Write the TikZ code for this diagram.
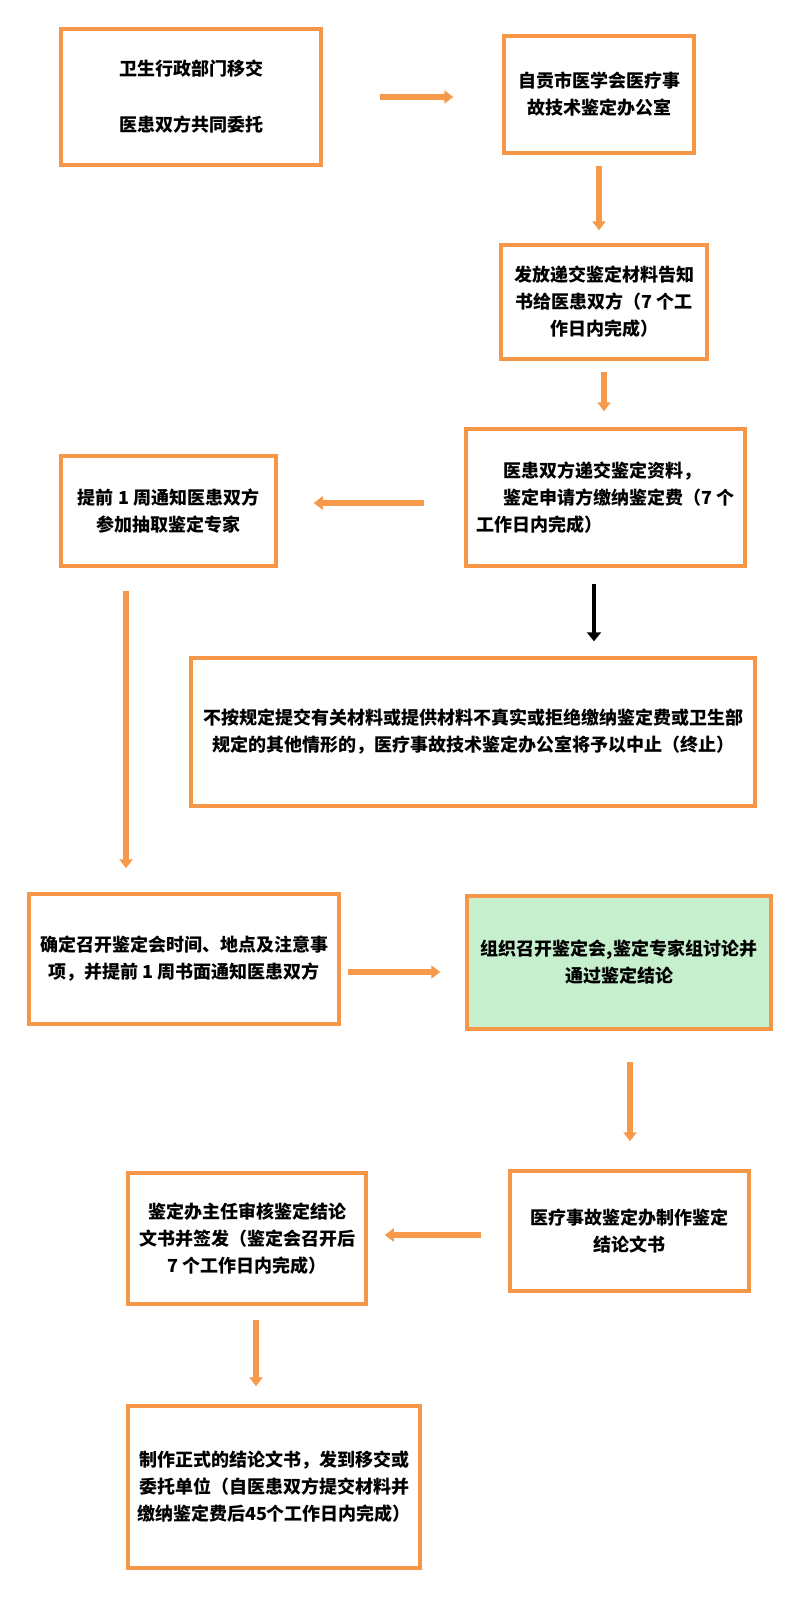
\documentclass[tikz,border=0pt]{standalone}
\usepackage{fontspec}
\usepackage{tikz}
\usetikzlibrary{arrows.meta}
\newfontfamily\cjk{Noto Sans CJK SC}
\definecolor{boxorange}{RGB}{247,150,70}
\definecolor{arroworange}{RGB}{246,153,75}
\definecolor{palegreen}{RGB}{198,239,206}

\begin{document}
\begin{tikzpicture}[x=1pt,y=-1pt,
  box/.style={draw=boxorange,line width=3.5pt,rectangle,inner sep=0pt,align=center,
    font=\cjk\bfseries\fontsize{18}{27}\selectfont},
  flow/.style={draw=arroworange,line width=5.5pt,-{Triangle[width=13pt,length=9pt]}},
  halt/.style={draw=black,line width=3.5pt,-{Triangle[width=14pt,length=9pt]}}]
 \fill[white] (0,0) rectangle (800,1600);
 \useasboundingbox (0,0) rectangle (800,1600);

 \node (transfer) at (191,97) [box,minimum width=260pt,minimum height=136pt] {卫生行政部门移交\\[29pt]医患双方共同委托};
 \node (office) at (599,94.5) [box,minimum width=190pt,minimum height=117pt] {自贡市医学会医疗事\\故技术鉴定办公室};
 \node (notice) at (604,302) [box,minimum width=206pt,minimum height=114pt] {发放递交鉴定材料告知\\书给医患双方（7 个工\\作日内完成）};
 \node (submit) at (605.5,497.5) [box,align=left,minimum width=279pt,minimum height=137pt] {\hspace*{1.5em}医患双方递交鉴定资料，\\\hspace*{1.5em}鉴定申请方缴纳鉴定费（7 个\\工作日内完成）};
 \node (expert) at (168.5,511) [box,minimum width=215pt,minimum height=110pt] {提前 1 周通知医患双方\\参加抽取鉴定专家};
 \node (stop) at (473,732) [box,minimum width=564pt,minimum height=148pt] {不按规定提交有关材料或提供材料不真实或拒绝缴纳鉴定费或卫生部\\规定的其他情形的，医疗事故技术鉴定办公室将予以中止（终止）};
 \node (meeting) at (184,959) [box,minimum width=310pt,minimum height=130pt] {确定召开鉴定会时间、地点及注意事\\项，并提前 1 周书面通知医患双方};
 \node (conclude) at (619,962.5) [box,fill=palegreen,minimum width=304pt,minimum height=133pt] {组织召开鉴定会,鉴定专家组讨论并\\通过鉴定结论};
 \node (draft) at (629.5,1231) [box,minimum width=239pt,minimum height=120pt] {医疗事故鉴定办制作鉴定\\结论文书};
 \node (review) at (247,1238.5) [box,minimum width=238pt,minimum height=131pt] {鉴定办主任审核鉴定结论\\文书并签发（鉴定会召开后\\7 个工作日内完成）};
 \node (issue) at (274,1487) [box,minimum width=292pt,minimum height=162pt] {制作正式的结论文书，发到移交或\\委托单位（自医患双方提交材料并\\缴纳鉴定费后45个工作日内完成）};

 \draw[flow, shorten <=57pt, shorten >=49pt] (transfer.east) -- (transfer.east -| office.west);
 \draw[flow, shorten <=11pt, shorten >=13pt] (office.south) -- (office.south |- notice.north);
 \draw[flow, shorten <=11pt, shorten >=16pt] (notice.south) -- (notice.south |- submit.north);
 \draw[flow, shorten <=40pt, shorten >=36pt] ([yshift=-5.5pt]submit.west) -- ([yshift=-5.5pt]submit.west -| expert.east);
 \draw[halt, shorten <=16pt, shorten >=15pt] ([xshift=-11.5pt]submit.south) -- ([xshift=-11.5pt]submit.south |- stop.north);
 \draw[flow, shorten <=23pt, shorten >=24pt] ([xshift=-42.5pt]expert.south) -- ([xshift=-42.5pt]expert.south |- meeting.north);
 \draw[flow, shorten <=7pt, shorten >=25pt] ([yshift=-13pt]meeting.east) -- ([yshift=-13pt]meeting.east -| conclude.west);
 \draw[flow, shorten <=31pt, shorten >=28pt] ([xshift=11pt]conclude.south) -- ([xshift=11pt]conclude.south |- draft.north);
 \draw[flow, shorten <=27pt, shorten >=17pt] ([yshift=-4pt]draft.west) -- ([yshift=-4pt]draft.west -| review.east);
 \draw[flow, shorten <=14pt, shorten >=18pt] ([xshift=9pt]review.south) -- ([xshift=9pt]review.south |- issue.north);
\end{tikzpicture}
\end{document}
